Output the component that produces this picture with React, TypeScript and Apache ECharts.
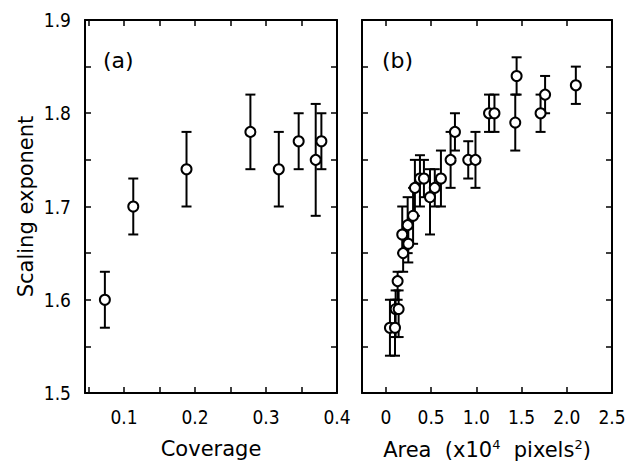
import React, { useEffect, useRef } from "react";
import * as echarts from "echarts";

// Panel (a): scaling exponent vs coverage
const coverage = [0.073, 0.113, 0.188, 0.278, 0.318, 0.346, 0.37, 0.378];
const coverageExp = [1.6, 1.7, 1.74, 1.78, 1.74, 1.77, 1.75, 1.77];
const coverageLo = [1.57, 1.67, 1.7, 1.74, 1.7, 1.74, 1.69, 1.74];
const coverageHi = [1.63, 1.73, 1.78, 1.82, 1.78, 1.8, 1.81, 1.8];

// Panel (b): scaling exponent vs area (x10^4 pixels^2)
const area = [0.044, 0.1, 0.107, 0.14, 0.129, 0.19, 0.18, 0.247, 0.24, 0.3, 0.32, 0.376, 0.42, 0.487, 0.54, 0.608, 0.715, 0.763, 0.91, 0.99, 1.14, 1.2, 1.43, 1.445, 1.71, 1.76, 2.1];
const areaExp = [1.57, 1.57, 1.59, 1.59, 1.62, 1.65, 1.67, 1.66, 1.68, 1.69, 1.72, 1.73, 1.73, 1.71, 1.72, 1.73, 1.75, 1.78, 1.75, 1.75, 1.8, 1.8, 1.79, 1.84, 1.8, 1.82, 1.83];
const areaLo = [1.54, 1.54, 1.56, 1.56, 1.6, 1.63, 1.65, 1.64, 1.65, 1.66, 1.69, 1.7, 1.71, 1.67, 1.7, 1.7, 1.72, 1.76, 1.73, 1.72, 1.78, 1.78, 1.76, 1.82, 1.78, 1.8, 1.81];
const areaHi = [1.6, 1.6, 1.61, 1.61, 1.63, 1.67, 1.7, 1.68, 1.71, 1.72, 1.75, 1.755, 1.75, 1.74, 1.74, 1.76, 1.78, 1.8, 1.77, 1.78, 1.82, 1.82, 1.82, 1.86, 1.82, 1.84, 1.85];

// Tick values
const yLabels = [1.5, 1.6, 1.7, 1.8, 1.9];
const yTicks = [1.5, 1.55, 1.6, 1.65, 1.7, 1.75, 1.8, 1.85, 1.9];
const covLabels = [0.1, 0.2, 0.3, 0.4];
const covTicks = [0.05, 0.1, 0.15, 0.2, 0.25, 0.3, 0.35, 0.4];
const areaLabels = [0, 0.5, 1.0, 1.5, 2.0, 2.5];

const TICK_FONT = "'DejaVu Sans Condensed', 'Liberation Sans', sans-serif";
const NAME_FONT = "'DejaVu Sans', sans-serif";

export default function App() {
  const ref = useRef<HTMLDivElement>(null);
  useEffect(() => {
    if (!ref.current) return;
    const chart = echarts.init(ref.current, null, { renderer: "svg" });
    const axisLine = { show: true, onZero: false, lineStyle: { color: "#000", width: 2 } };
    const tick = (vals: number[]) => ({
      show: true,
      inside: true,
      length: 6,
      customValues: vals,
      lineStyle: { color: "#000", width: 1.5 },
    });
    const label = (vals: number[], fmt: (v: number) => string, margin: number) => ({
      show: true,
      customValues: vals,
      formatter: fmt,
      color: "#000",
      fontFamily: TICK_FONT,
      fontSize: 19,
      margin,
    });
    const errorRender = (params: any, api: any) => {
      const x = api.value(0);
      const lo = api.coord([x, api.value(1)]);
      const hi = api.coord([x, api.value(2)]);
      const hw = 5;
      const st = { stroke: "#000", lineWidth: 2 };
      return {
        type: "group",
        children: [
          { type: "line", shape: { x1: lo[0], y1: lo[1], x2: hi[0], y2: hi[1] }, style: st },
          { type: "line", shape: { x1: lo[0] - hw, y1: lo[1], x2: lo[0] + hw, y2: lo[1] }, style: st },
          { type: "line", shape: { x1: hi[0] - hw, y1: hi[1], x2: hi[0] + hw, y2: hi[1] }, style: st },
        ],
      };
    };
    const f1 = (v: number) => v.toFixed(1);
    const fArea = (v: number) => (v === 0 ? "0" : v.toFixed(1));
    const yBase = { type: "value", min: 1.5, max: 1.9, splitLine: { show: false }, axisLine };
    const nameStyle = { fontFamily: NAME_FONT, fontSize: 21, color: "#000" };
    const marker = {
      type: "scatter", symbol: "circle", symbolSize: 10, z: 3,
      itemStyle: { color: "#fff", borderColor: "#000", borderWidth: 2, opacity: 1 },
      emphasis: { disabled: true },
    };
    chart.setOption({
      animation: false,
      backgroundColor: "#fff",
      grid: [
        { left: 85, top: 20, width: 252, height: 373, containLabel: false, outerBoundsMode: "none" },
        { left: 362, top: 20, width: 250, height: 373, containLabel: false, outerBoundsMode: "none" },
      ],
      xAxis: [
        {
          type: "value", gridIndex: 0, min: 0.045, max: 0.4, position: "bottom",
          axisLine, axisTick: tick(covTicks), axisLabel: label(covLabels, f1, 14), splitLine: { show: false },
          name: "Coverage", nameLocation: "middle", nameGap: 45, nameTextStyle: nameStyle,
        },
        {
          type: "value", gridIndex: 0, min: 0.045, max: 0.4, position: "top",
          axisLine, axisTick: tick(covTicks), axisLabel: { show: false }, splitLine: { show: false },
        },
        {
          type: "value", gridIndex: 1, min: -0.265, max: 2.5, position: "bottom",
          axisLine, axisTick: tick(areaLabels), axisLabel: label(areaLabels, fArea, 14), splitLine: { show: false },
          name: "Area  (x10{s|4}  pixels{s|2})", nameLocation: "middle", nameGap: 45,
          nameTextStyle: {
            ...nameStyle,
            rich: { s: { fontFamily: NAME_FONT, fontSize: 13, color: "#000", verticalAlign: "top", padding: [0, 0, 10, 0] } },
          },
        },
        {
          type: "value", gridIndex: 1, min: -0.265, max: 2.5, position: "top",
          axisLine, axisTick: tick(areaLabels), axisLabel: { show: false }, splitLine: { show: false },
        },
      ],
      yAxis: [
        {
          ...yBase, gridIndex: 0, position: "left",
          axisTick: tick(yTicks), axisLabel: label(yLabels, f1, 14),
          name: "Scaling exponent", nameLocation: "middle", nameGap: 49, nameTextStyle: nameStyle,
        },
        { ...yBase, gridIndex: 0, position: "right", axisTick: tick(yTicks), axisLabel: { show: false } },
        { ...yBase, gridIndex: 1, position: "left", axisTick: tick(yTicks), axisLabel: { show: false } },
        { ...yBase, gridIndex: 1, position: "right", axisTick: tick(yTicks), axisLabel: { show: false } },
      ],
      series: [
        {
          type: "custom", xAxisIndex: 0, yAxisIndex: 0, renderItem: errorRender,
          data: coverage.map((x, i) => [x, coverageLo[i], coverageHi[i]]), z: 2,
        },
        {
          ...marker, xAxisIndex: 0, yAxisIndex: 0,
          data: coverage.map((x, i) => [x, coverageExp[i]]),
        },
        {
          type: "custom", xAxisIndex: 2, yAxisIndex: 2, renderItem: errorRender,
          data: area.map((x, i) => [x, areaLo[i], areaHi[i]]), z: 2,
        },
        {
          ...marker, xAxisIndex: 2, yAxisIndex: 2,
          data: area.map((x, i) => [x, areaExp[i]]),
        },
      ],
      graphic: [
        { type: "text", left: 103, top: 49, style: { text: "(a)", font: `22px ${NAME_FONT}`, fill: "#000" } },
        { type: "text", left: 382, top: 49, style: { text: "(b)", font: `22px ${NAME_FONT}`, fill: "#000" } },
      ],
    });
    return () => chart.dispose();
  }, []);
  return (
    <div
      ref={ref}
      style={{ position: "absolute", left: 0, top: 0, width: 630, height: 465 }}
    />
  );
}
